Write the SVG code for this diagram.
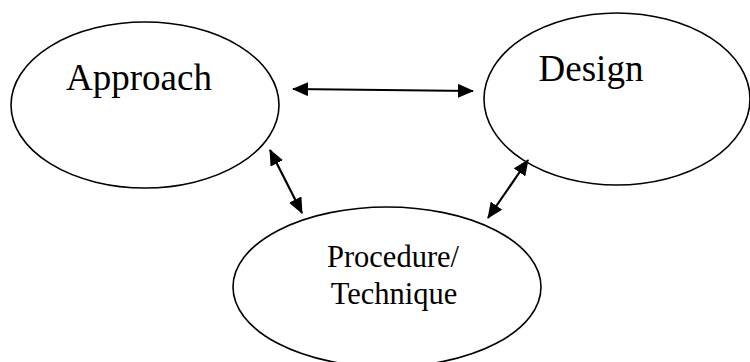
<svg xmlns="http://www.w3.org/2000/svg" width="750" height="362" viewBox="0 0 750 362">
  <style>
    .node ellipse { fill: #ffffff; stroke: #000000; stroke-width: 1.6; }
    .label { font-family: "Liberation Serif", "Times New Roman", serif; fill: #000000; text-anchor: middle; }
    .big { font-size: 37px; }
    .small { font-size: 30.5px; }
    .link { stroke: #000000; stroke-width: 2.2; fill: none; marker-start: url(#head); marker-end: url(#head); }
  </style>
  <defs>
    <marker id="head" viewBox="0 0 16 14" refX="15" refY="7" markerWidth="16" markerHeight="14" markerUnits="userSpaceOnUse" orient="auto-start-reverse">
      <path d="M0,0 L16,7 L0,14 z" fill="#000000"/>
    </marker>
  </defs>

  <g id="approach" class="node">
    <ellipse cx="145" cy="105" rx="134" ry="83"/>
    <text class="label big" x="139" y="90">Approach</text>
  </g>

  <g id="design" class="node">
    <ellipse cx="617" cy="99" rx="133" ry="86"/>
    <text class="label big" x="591" y="81">Design</text>
  </g>

  <g id="procedure" class="node">
    <ellipse cx="387" cy="287" rx="154" ry="80"/>
    <text class="label small" x="393" y="267">Procedure/</text>
    <text class="label small" x="394" y="304">Technique</text>
  </g>

  <g id="connectors">
    <line class="link" x1="293" y1="89" x2="473" y2="91"/>
    <line class="link" x1="270" y1="150" x2="302" y2="213"/>
    <line class="link" x1="528" y1="160" x2="488" y2="218"/>
  </g>
</svg>
